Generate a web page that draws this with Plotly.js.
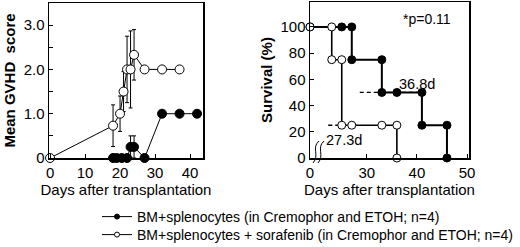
<!DOCTYPE html>
<html>
<head>
<meta charset="utf-8">
<script src="https://cdn.plot.ly/plotly-3.0.1.min.js"></script>
<style>html,body{margin:0;padding:0;background:#fff;}#chart{width:520px;height:247px;}</style>
</head>
<body>
<div id="chart"></div>
<script>
// ---- GVHD score data ----
const gvhdDaysCtrl  = [18, 19, 20.5, 22, 23, 24, 27, 32, 37, 42];
const gvhdScoreCtrl = [0, 0, 0, 0, 0.25, 0.25, 0, 1.0, 1.0, 1.0];
const gvhdErrCtrl   = [0, 0, 0, 0, 0.25, 0.25, 0, 0, 0, 0];

const gvhdDaysSoraf  = [0, 18, 20, 21, 22, 23, 24, 27, 32, 37];
const gvhdScoreSoraf = [0, 0.73, 1.0, 1.5, 2.0, 2.0, 2.33, 2.0, 2.0, 2.0];
const gvhdErrSoraf   = [0, 0.47, 0.4, 0.45, 0.75, 0.87, 0.57, 0, 0, 0];

const gvhdTickVals = [0, 0.5, 1, 1.5, 2, 2.5, 3, 3.5];
const gvhdTickText = ['0', '', '1.0', '', '2.0', '', '3.0', ''];
const gvhdXTicks = [0, 10, 20, 30, 40];

// ---- Survival data ----
const survDaysCtrl = [0, 25, 27, 27, 33, 33, 36, 41, 41, 46, 46];
const survPctCtrl  = [100, 100, 100, 75, 75, 50, 50, 50, 25, 25, 0];
const survDaysSoraf = [0, 23, 23, 25, 25, 27, 33, 36, 36];
const survPctSoraf  = [100, 100, 75, 75, 25, 25, 25, 25, 0];

const meanCtrlLabel = '36.8d';
const meanSorafLabel = '27.3d';
const meanCtrlLineX = [28.6, 40.5];
const meanCtrlLineY = [50, 50];
const meanSorafLineX = [22.3, 27.3];
const meanSorafLineY = [25, 25];
const pValueText = '*p=0.11';

const survXTickDays = [0, 30, 40, 50];
const survXTickText = ['0', '30', '40', '50'];
const survYTicks = [0, 20, 40, 60, 80, 100];

const nameCtrl  = 'BM+splenocytes (in Cremophor and ETOH; n=4)';
const nameSoraf = 'BM+splenocytes + sorafenib (in Cremophor and ETOH; n=4)';

// broken survival x axis: days 0..BRK are compressed into the left gap
const BRK = 20, AXMIN = 18.66;
function brk(d) { return d < BRK ? AXMIN + (d / BRK) * (BRK - AXMIN) : d; }

const W = 520, H = 247;
const px = v => v / W, py = v => 1 - v / H;
const FONT = 'Liberation Sans, Arial, sans-serif';

const traces = [
  {x: gvhdDaysCtrl, y: gvhdScoreCtrl, xaxis: 'x', yaxis: 'y', mode: 'lines+markers',
   line: {color: 'black', width: 1}, showlegend: false, cliponaxis: false,
   marker: {size: 9, color: 'black', line: {color: 'black', width: 1}},
   error_y: {type: 'data', array: gvhdErrCtrl, color: 'black', thickness: 1, width: 2}},
  {x: gvhdDaysSoraf, y: gvhdScoreSoraf, xaxis: 'x', yaxis: 'y', mode: 'lines+markers',
   line: {color: 'black', width: 1}, showlegend: false, cliponaxis: false,
   marker: {size: 9, color: 'white', line: {color: 'black', width: 1}},
   error_y: {type: 'data', array: gvhdErrSoraf, color: 'black', thickness: 1, width: 2}},
  {x: meanCtrlLineX, y: meanCtrlLineY, xaxis: 'x2', yaxis: 'y2', mode: 'lines',
   line: {color: 'black', width: 1.3, dash: '4px,3px'}, showlegend: false},
  {x: meanSorafLineX, y: meanSorafLineY, xaxis: 'x2', yaxis: 'y2', mode: 'lines',
   line: {color: 'black', width: 1.3, dash: '4px,3px'}, showlegend: false},
  {x: survDaysCtrl.map(brk), y: survPctCtrl, xaxis: 'x2', yaxis: 'y2', mode: 'lines+markers',
   line: {color: 'black', width: 2}, showlegend: false, cliponaxis: false,
   marker: {size: 8, color: 'black', line: {color: 'black', width: 1}}},
  {x: survDaysSoraf.map(brk), y: survPctSoraf, xaxis: 'x2', yaxis: 'y2', mode: 'lines+markers',
   line: {color: 'black', width: 1.6}, showlegend: false, cliponaxis: false,
   marker: {size: 8, color: 'white', line: {color: 'black', width: 1}}},
  {x: [null], y: [null], xaxis: 'x', yaxis: 'y', name: nameCtrl, mode: 'lines+markers', legend: 'legend',
   line: {color: 'black', width: 1}, marker: {size: 5, color: 'black', line: {color: 'black', width: 1}}},
  {x: [null], y: [null], xaxis: 'x', yaxis: 'y', name: nameSoraf, mode: 'lines+markers', legend: 'legend2',
   line: {color: 'black', width: 1}, marker: {size: 5, color: 'white', line: {color: 'black', width: 1}}}
];

const axisCommon = {
  showline: true, mirror: true, linecolor: 'black', linewidth: 1.5,
  showgrid: false, zeroline: false, ticks: 'inside', ticklen: 4, tickcolor: 'black',
  tickfont: {size: 15, family: FONT, color: 'black'}, fixedrange: true
};

function brkPath(x) {
  return 'M ' + px(x + 5) + ' ' + py(141) + ' C ' + px(x - 3) + ' ' + py(148) + ' ' +
         px(x + 6) + ' ' + py(155) + ' ' + px(x - 1) + ' ' + py(163);
}

const legendCommon = {xanchor: 'left', yanchor: 'middle', borderwidth: 0,
  font: {size: 14, family: FONT, color: 'black'}, bgcolor: 'rgba(0,0,0,0)', itemwidth: 30};

const layout = {
  width: W, height: H,
  margin: {l: 0, r: 0, t: 0, b: 0, autoexpand: false},
  paper_bgcolor: 'white', plot_bgcolor: 'white',
  font: {family: FONT, color: 'black'},
  showlegend: true,
  legend: Object.assign({}, legendCommon, {x: px(97), y: py(217)}),
  legend2: Object.assign({}, legendCommon, {x: px(97), y: py(235)}),
  xaxis: Object.assign({}, axisCommon, {
    domain: [px(49), px(203)], range: [-0.3, 43.7], tickvals: gvhdXTicks,
    title: {text: 'Days after transplantation', font: {size: 15, family: FONT}, standoff: 0}
  }),
  yaxis: Object.assign({}, axisCommon, {
    domain: [py(158), py(3)], range: [0, 3.5], tickvals: gvhdTickVals, ticktext: gvhdTickText,
    title: {text: '<b>Mean GVHD  score</b>', font: {size: 15, family: FONT}, standoff: 4}
  }),
  xaxis2: Object.assign({}, axisCommon, {
    domain: [px(310), px(469)], range: [AXMIN, 50.4], anchor: 'y2',
    tickvals: survXTickDays.map(brk), ticktext: survXTickText,
    title: {text: 'Days after transplantation', font: {size: 15, family: FONT}, standoff: 0}
  }),
  yaxis2: Object.assign({}, axisCommon, {
    domain: [py(158), py(2)], range: [0, 119], anchor: 'x2', tickvals: survYTicks,
    title: {text: '<b>Survival (%)</b>', font: {size: 15, family: FONT}, standoff: 4}
  }),
  annotations: [
    {xref: 'x2', yref: 'y2', x: 42, y: 106.4, text: pValueText, showarrow: false,
     font: {size: 14, family: FONT}},
    {xref: 'x2', yref: 'y2', x: 39.95, y: 56.8, text: meanCtrlLabel, showarrow: false,
     font: {size: 14.5, family: FONT}},
    {xref: 'x2', yref: 'y2', x: 25.45, y: 13.5, text: meanSorafLabel, showarrow: false,
     font: {size: 14.5, family: FONT}}
  ],
  shapes: [
    {type: 'path', xref: 'paper', yref: 'paper', path: brkPath(314), line: {color: 'black', width: 1}},
    {type: 'path', xref: 'paper', yref: 'paper', path: brkPath(319), line: {color: 'black', width: 1}}
  ]
};

Plotly.newPlot('chart', traces, layout, {staticPlot: true, displayModeBar: false});
</script>
</body>
</html>
